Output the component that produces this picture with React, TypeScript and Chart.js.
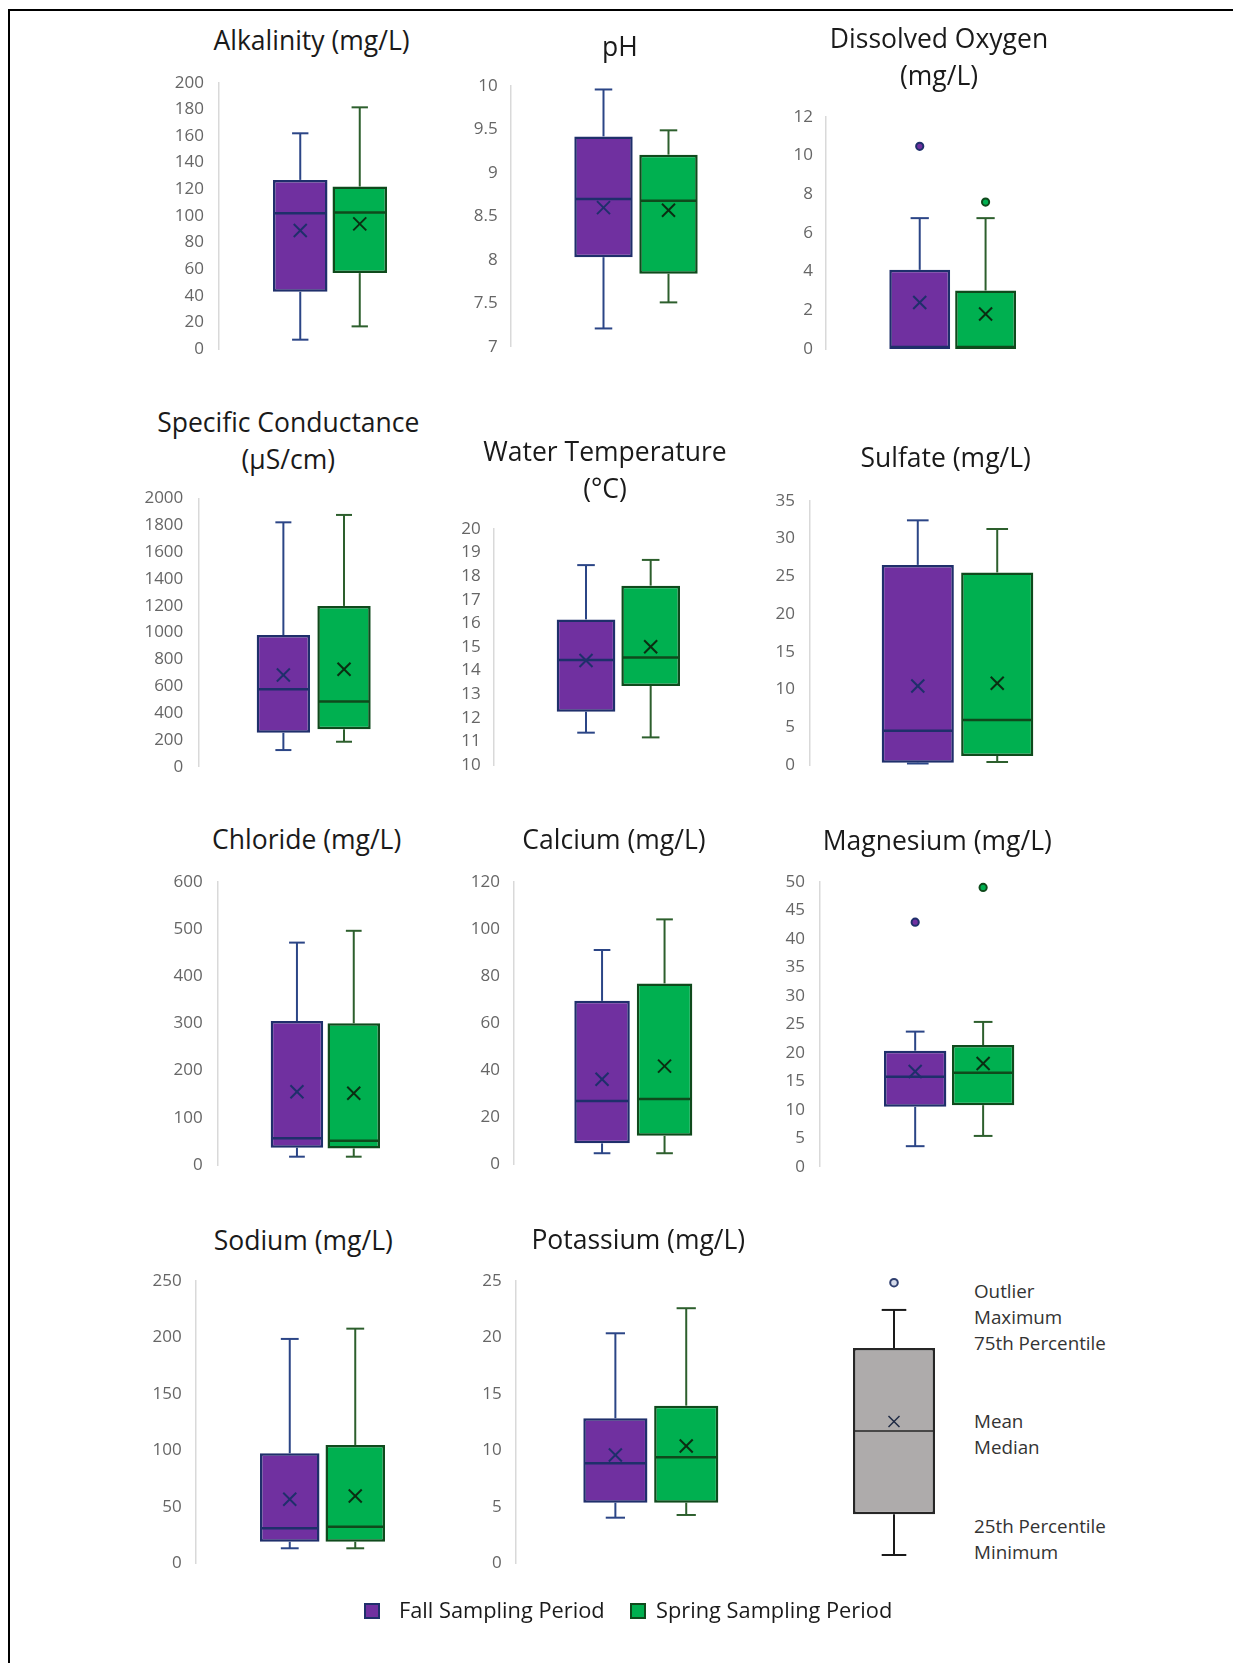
import React, { useEffect, useRef } from 'react';
import { Chart, registerables } from 'chart.js';

Chart.register(...registerables);

const FONT = '"Open Sans", "Noto Sans", sans-serif';
Chart.defaults.font.family = FONT;

// ---------------- DATA ----------------
const parameters = [
  'Alkalinity (mg/L)',
  'pH',
  'Dissolved Oxygen\n(mg/L)',
  'Specific Conductance\n(µS/cm)',
  'Water Temperature\n(°C)',
  'Sulfate (mg/L)',
  'Chloride (mg/L)',
  'Calcium (mg/L)',
  'Magnesium (mg/L)',
  'Sodium (mg/L)',
  'Potassium (mg/L)',
];
const periods = ['Fall Sampling Period', 'Spring Sampling Period'];

// Fall sampling period statistics (one entry per parameter)
const fallMin = [7, 7.21, 0, 124, 11.37, 0.2, 17.6, 4.7, 3.6, 13.3, 4.04];
const fallQ1 = [43, 8.03, 0, 253, 12.26, 0.3, 36.7, 8.9, 10.5, 19.1, 5.37];
const fallMedian = [102, 8.7, 0.1, 577, 14.45, 4.54, 56.5, 26.9, 15.8, 31, 8.86];
const fallQ3 = [127, 9.42, 4.09, 981, 16.17, 26.5, 305, 69.4, 20.35, 97.4, 12.84];
const fallMax = [162, 9.96, 6.76, 1821, 18.47, 32.4, 471, 91, 23.7, 198.7, 20.37];
const fallMean = [89, 8.6, 2.4, 683, 14.43, 10.46, 155, 36.1, 16.7, 56.7, 9.59];
const fallOutliers = [[], [], [10.47], [], [], [], [], [], [42.9], [], []];

// Spring sampling period statistics (one entry per parameter)
const springMin = [17, 7.51, 0, 186, 11.17, 0.4, 17.6, 4.7, 5.4, 13.3, 4.28];
const springQ1 = [57, 7.84, 0, 279, 13.35, 1.19, 35, 12.1, 10.8, 19.1, 5.37];
const springMedian = [102.6, 8.68, 0.1, 485, 14.55, 5.96, 51.5, 27.7, 16.5, 32.4, 9.39];
const springQ3 = [122, 9.21, 3.02, 1198, 17.6, 25.5, 300, 76.8, 21.35, 104.8, 13.96];
const springMax = [181.5, 9.49, 6.76, 1876, 18.69, 31.25, 496, 104, 25.4, 207.8, 22.59];
const springMean = [94, 8.57, 1.81, 726, 15.01, 10.82, 151.8, 41.7, 18.1, 59.6, 10.39];
const springOutliers = [[], [], [7.59], [], [], [], [], [], [49], [], []];

// Value-axis tick labels of each panel
const yTicks = [
  [0, 20, 40, 60, 80, 100, 120, 140, 160, 180, 200],
  [7, 7.5, 8, 8.5, 9, 9.5, 10],
  [0, 2, 4, 6, 8, 10, 12],
  [0, 200, 400, 600, 800, 1000, 1200, 1400, 1600, 1800, 2000],
  [10, 11, 12, 13, 14, 15, 16, 17, 18, 19, 20],
  [0, 5, 10, 15, 20, 25, 30, 35],
  [0, 100, 200, 300, 400, 500, 600],
  [0, 20, 40, 60, 80, 100, 120],
  [0, 5, 10, 15, 20, 25, 30, 35, 40, 45, 50],
  [0, 50, 100, 150, 200, 250],
  [0, 5, 10, 15, 20, 25],
];

// Key (explanation) box: min, q1, median, q3, max, mean, outlier
const exampleStats = [0, 1.5, 4.55, 7.6, 9, 4.9, 10];
const exampleLabels = ['Outlier', 'Maximum', '75th Percentile', 'Mean', 'Median', '25th Percentile', 'Minimum'];

// ---------------- LAYOUT / STYLE ----------------
type PanelLayout = {
  axisX: number; top: number; bottom: number; labelRight: number;
  fall: [number, number]; spring: [number, number];
  titleX: number; titleY: number;
};
const layouts: PanelLayout[] = [
  { axisX: 219, top: 82.7, bottom: 349, labelRight: 204, fall: [273, 328], spring: [333, 387], titleX: 311.5, titleY: 41.7 },
  { axisX: 510.7, top: 86, bottom: 346.7, labelRight: 497.7, fall: [574.3, 631.7], spring: [638.3, 697.7], titleX: 620, titleY: 47.2 },
  { axisX: 826, top: 116.7, bottom: 349, labelRight: 813, fall: [889.3, 951], spring: [956, 1016], titleX: 939, titleY: 39.2 },
  { axisX: 199, top: 498.3, bottom: 766.7, labelRight: 183.3, fall: [256.7, 310], spring: [317.3, 370.7], titleX: 288.3, titleY: 423.3 },
  { axisX: 493.3, top: 529, bottom: 765, labelRight: 480.7, fall: [556.7, 616.7], spring: [622.7, 680], titleX: 605, titleY: 452 },
  { axisX: 809.3, top: 500.7, bottom: 765, labelRight: 795, fall: [881.7, 956.7], spring: [964, 1033.3], titleX: 945.7, titleY: 458 },
  { axisX: 217.7, top: 881.7, bottom: 1165, labelRight: 202.7, fall: [270.7, 324], spring: [328.3, 380], titleX: 306.7, titleY: 840.8 },
  { axisX: 513.3, top: 881.7, bottom: 1164.3, labelRight: 500, fall: [574.3, 629], spring: [636, 692.3], titleX: 614, titleY: 840.8 },
  { axisX: 819.3, top: 881.7, bottom: 1166.7, labelRight: 805, fall: [884, 947.7], spring: [953.3, 1014.3], titleX: 937.3, titleY: 841.7 },
  { axisX: 196, top: 1281, bottom: 1563.3, labelRight: 181.7, fall: [260, 320], spring: [326, 385], titleX: 303.3, titleY: 1241 },
  { axisX: 515.7, top: 1281, bottom: 1563.3, labelRight: 501.7, fall: [583.3, 647.3], spring: [654, 718.3], titleX: 638.3, titleY: 1240 },
];

const FALL_STYLE = { fill: '#7030A0', border: '#1F2F6B', whisker: '#2B4586', mean: '#1F2F6B' };
const SPRING_STYLE = { fill: '#00B050', border: '#0F4A1C', whisker: '#2D5F2D', mean: '#0A2E12' };

const TITLE_FONT = 26.5;
const TITLE_LINE = 37;
const V_PAD = 34; // canvas room above/below the plot area (must exceed label half-height + tick padding)

// ---------------- PLUGIN ----------------
const boxExtras = {
  id: 'boxExtras',
  afterDatasetsDraw(chart: any) {
    const ctx = chart.ctx;
    const ys = chart.scales.y;
    chart.data.datasets.forEach((ds: any, i: number) => {
      const meta = chart.getDatasetMeta(i);
      const el = meta.data[0];
      if (!el || !ds.stats) return;
      const { x, width } = el.getProps(['x', 'width'], true);
      const st = ds.stats;
      const [q1, q3] = ds.data[0];
      const half = width / 2;
      const cap = (width * (ds.capRatio ?? 0.3)) / 2;
      const py = (v: number) => ys.getPixelForValue(v);
      const line = (x1: number, y1: number, x2: number, y2: number) => {
        ctx.beginPath();
        ctx.moveTo(x1, y1);
        ctx.lineTo(x2, y2);
        ctx.stroke();
      };
      ctx.save();
      ctx.lineCap = 'butt';
      ctx.strokeStyle = ds.whiskerColor;
      ctx.lineWidth = ds.whiskerWidth ?? 2;
      if (st.max > q3) {
        line(x, py(q3), x, py(st.max));
        line(x - cap, py(st.max), x + cap, py(st.max));
      }
      if (st.min < q1) {
        line(x, py(q1), x, py(st.min));
        line(x - cap, py(st.min), x + cap, py(st.min));
      }
      // median
      ctx.strokeStyle = ds.borderColor;
      ctx.lineWidth = ds.medianWidth ?? 2.5;
      line(x - half + 1, py(st.median), x + half - 1, py(st.median));
      // mean
      const m = ds.meanSize ?? 6.5;
      const my = py(st.mean);
      ctx.strokeStyle = ds.meanColor;
      ctx.lineWidth = ds.meanWidth ?? 2;
      line(x - m, my - m, x + m, my + m);
      line(x - m, my + m, x + m, my - m);
      // outliers
      (st.outliers || []).forEach((o: number) => {
        ctx.beginPath();
        ctx.arc(x, py(o), ds.outlierRadius ?? 3.6, 0, Math.PI * 2);
        ctx.fillStyle = ds.outlierFill;
        ctx.fill();
        ctx.lineWidth = 2;
        ctx.strokeStyle = ds.outlierStroke;
        ctx.stroke();
      });
      ctx.restore();
    });
  },
};

// ---------------- COMPONENTS ----------------
function BoxPanel({ index }: { index: number }) {
  const ref = useRef<HTMLCanvasElement>(null);
  const L = layouts[index];
  const canvasLeft = Math.floor(L.axisX - 70);
  const yAxisW = L.axisX - canvasLeft;
  const fallC = (L.fall[0] + L.fall[1]) / 2;
  const springC = (L.spring[0] + L.spring[1]) / 2;
  const groupC = (L.fall[0] + L.spring[1]) / 2;
  const W = 2 * (groupC - L.axisX);
  const slot = springC - fallC;
  const barW = (L.fall[1] - L.fall[0] + L.spring[1] - L.spring[0]) / 2;
  const catPct = (2 * slot) / W;
  const barPct = barW / slot;
  const cw = Math.ceil(yAxisW + W);
  const padRight = cw - yAxisW - W;
  const canvasTop = Math.floor(L.top - V_PAD);
  const padTop = L.top - canvasTop;
  const ch = Math.ceil(L.bottom + V_PAD - canvasTop);
  const padBottom = canvasTop + ch - L.bottom;
  const ticks = yTicks[index];

  useEffect(() => {
    const mk = (label: string, s: any, st: any) => ({
      label,
      data: [[st.q1, st.q3]],
      backgroundColor: s.fill,
      borderColor: s.border,
      borderWidth: 2.5,
      borderSkipped: false,
      categoryPercentage: catPct,
      barPercentage: barPct,
      whiskerColor: s.whisker,
      meanColor: s.mean,
      outlierFill: s.fill,
      outlierStroke: s.border,
      stats: st,
    });
    const chart = new Chart(ref.current as HTMLCanvasElement, {
      type: 'bar',
      data: {
        labels: [parameters[index]],
        datasets: [
          mk(periods[0], FALL_STYLE, {
            min: fallMin[index], q1: fallQ1[index], median: fallMedian[index], q3: fallQ3[index],
            max: fallMax[index], mean: fallMean[index], outliers: fallOutliers[index],
          }),
          mk(periods[1], SPRING_STYLE, {
            min: springMin[index], q1: springQ1[index], median: springMedian[index], q3: springQ3[index],
            max: springMax[index], mean: springMean[index], outliers: springOutliers[index],
          }),
        ] as any,
      },
      options: {
        animation: false,
        responsive: false,
        events: [],
        layout: { padding: { left: 0, right: padRight, top: padTop, bottom: padBottom } },
        plugins: { legend: { display: false }, tooltip: { enabled: false }, title: { display: false } },
        scales: {
          x: { display: false },
          y: {
            type: 'linear',
            min: ticks[0],
            max: ticks[ticks.length - 1],
            afterFit: (s: any) => { s.width = yAxisW; },
            afterBuildTicks: (s: any) => { s.ticks = ticks.map((v) => ({ value: v })); },
            grid: { display: false, drawTicks: false },
            border: { display: true, color: '#D9D9D9', width: 1.5 },
            ticks: {
              autoSkip: false,
              padding: L.axisX - L.labelRight,
              color: '#666666',
              font: { size: 17, family: FONT },
              callback: (v: any) => String(v),
            },
          },
        },
      } as any,
      plugins: [boxExtras],
    });
    return () => chart.destroy();
  }, []);

  const lines = parameters[index].split('\n');
  const titleTop = L.titleY - TITLE_LINE / 2 - 0.031 * TITLE_FONT;

  return (
    <>
      <div
        style={{
          position: 'absolute', left: L.titleX - 200, width: 400, top: titleTop,
          textAlign: 'center', fontFamily: FONT, fontSize: TITLE_FONT, lineHeight: `${TITLE_LINE}px`,
          color: '#1A1A1A', whiteSpace: 'nowrap',
        }}
      >
        {lines.map((t, k) => (<div key={k}>{t}</div>))}
      </div>
      <canvas
        ref={ref}
        width={cw}
        height={ch}
        style={{ position: 'absolute', left: canvasLeft, top: canvasTop, width: cw, height: ch }}
      />
    </>
  );
}

function ExampleBox() {
  const ref = useRef<HTMLCanvasElement>(null);
  // pixel frame for the key box
  const left = 840, width = 108, valueTop = 1282.7, valueBottom = 1555;
  const top = Math.floor(valueTop - 10);
  const height = Math.ceil(valueBottom + 10 - top);
  const [mn, q1, med, q3, mx, mean, out] = exampleStats;
  useEffect(() => {
    const chart = new Chart(ref.current as HTMLCanvasElement, {
      type: 'bar',
      data: {
        labels: ['Key'],
        datasets: [{
          label: 'Key',
          data: [[q1, q3]],
          backgroundColor: '#AEABAB',
          borderColor: '#262626',
          borderWidth: 2.5,
          borderSkipped: false,
          categoryPercentage: 1,
          barPercentage: 82 / width,
          whiskerColor: '#1A1A1A',
          meanColor: '#1F2A44',
          meanWidth: 1.5,
          meanSize: 5.5,
          medianWidth: 1.5,
          capRatio: 0.3,
          outlierFill: '#D5DBEA',
          outlierStroke: '#2F3F6F',
          outlierRadius: 3.8,
          stats: { min: mn, median: med, max: mx, mean, outliers: [out] },
        }] as any,
      },
      options: {
        animation: false,
        responsive: false,
        events: [],
        layout: { padding: { left: 0, right: 0, top: valueTop - top, bottom: top + height - valueBottom } },
        plugins: { legend: { display: false }, tooltip: { enabled: false } },
        scales: {
          x: { display: false },
          y: { display: false, min: 0, max: 10 },
        },
      } as any,
      plugins: [boxExtras],
    });
    return () => chart.destroy();
  }, []);
  const labelY = [1292, 1318, 1343.7, 1422, 1448, 1527, 1553];
  const fs = 18.8;
  return (
    <>
      <canvas ref={ref} width={width} height={height}
        style={{ position: 'absolute', left, top, width, height }} />
      {exampleLabels.map((t, k) => (
        <div key={k} style={{
          position: 'absolute', left: 974, top: labelY[k] - 13 - 0.031 * fs, lineHeight: '26px',
          fontFamily: FONT, fontSize: fs, color: '#333333', whiteSpace: 'nowrap',
        }}>{t}</div>
      ))}
    </>
  );
}

function BottomLegend() {
  const items = [
    { label: periods[0], style: FALL_STYLE, sq: 364, tx: 399 },
    { label: periods[1], style: SPRING_STYLE, sq: 630, tx: 656 },
  ];
  const cy = 1610.8;
  const fs = 21.8;
  return (
    <>
      {items.map((it, k) => (
        <React.Fragment key={k}>
          <div style={{
            position: 'absolute', left: it.sq, top: cy - 8, width: 12, height: 12,
            background: it.style.fill, border: `2px solid ${it.style.border}`,
          }} />
          <div style={{
            position: 'absolute', left: it.tx, top: cy - 15 - 0.031 * fs, lineHeight: '30px',
            fontFamily: FONT, fontSize: fs, color: '#1A1A1A', whiteSpace: 'nowrap',
          }}>{it.label}</div>
        </React.Fragment>
      ))}
    </>
  );
}

export default function App() {
  return (
    <div style={{ position: 'absolute', left: 0, top: 0, width: 1233, height: 1663, overflow: 'hidden', background: '#FFFFFF' }}>
      <div style={{
        position: 'absolute', left: 8, top: 9, width: 1300, height: 1700,
        borderTop: '2px solid #000', borderLeft: '2px solid #000',
      }} />
      {layouts.map((_, i) => (<BoxPanel key={i} index={i} />))}
      <ExampleBox />
      <BottomLegend />
    </div>
  );
}
